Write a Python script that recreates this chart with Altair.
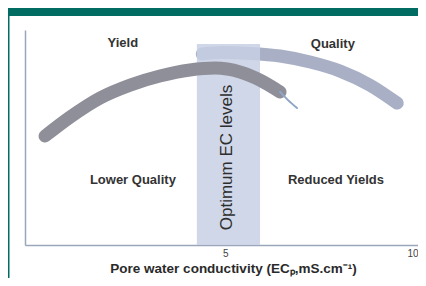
import altair as alt
import pandas as pd

# Curve data (x: pore water EC, y: relative response)
yield_x = [0.32, 0.97, 1.75, 2.53, 3.30, 4.08, 4.73, 5.38, 5.90, 6.42]
yield_y = [5.07, 5.95, 6.84, 7.44, 7.86, 8.14, 8.23, 8.05, 7.67, 7.12]
tail_x = [6.42, 6.62, 6.86]
tail_y = [7.12, 6.75, 6.37]
quality_x = [4.40, 4.91, 5.64, 6.42, 7.20, 7.98, 8.75, 9.46]
quality_y = [8.88, 8.95, 8.91, 8.79, 8.51, 8.09, 7.44, 6.60]

band_x = [4.26]
band_x2 = [5.90]
band_top = [9.35]

label_text = ["Yield", "Quality", "Lower Quality", "Reduced Yields"]
label_x = [2.34, 7.79, 2.60, 7.87]
label_y = [9.40, 9.35, 3.02, 3.02]

opt_text = ["Optimum EC levels"]
opt_x = [5.03]
opt_y = [4.07]

tick_values = [5, 10]
x_title = "Pore water conductivity (ECₚ,mS.cm⁻¹)"

xs = alt.Scale(domain=[-0.2, 10.0], nice=False, zero=False)
ys = alt.Scale(domain=[0, 10], nice=False, zero=False)

df_yield = pd.DataFrame({"x": yield_x, "y": yield_y})
df_tail = pd.DataFrame({"x": tail_x, "y": tail_y})
df_quality = pd.DataFrame({"x": quality_x, "y": quality_y})
df_band = pd.DataFrame({"x": band_x, "x2": band_x2, "y": [0], "y2": band_top})
df_labels = pd.DataFrame({"t": label_text, "x": label_x, "y": label_y})
df_opt = pd.DataFrame({"t": opt_text, "x": opt_x, "y": opt_y})
df_one = pd.DataFrame({"a": [0]})

xaxis = alt.Axis(values=tick_values, ticks=False, grid=False, domainColor="#9aa6ba",
                 domainWidth=1.5, labelColor="#444", labelFontSize=10, labelPadding=3,
                 labelFont="Liberation Sans", title=x_title, titleFont="Liberation Sans",
                 titleFontSize=13.5, titleFontWeight="bold", titleColor="#2a2a2a",
                 titlePadding=3, titleX=208, titleAlign="center", labelFlush=True)
yaxis = alt.Axis(labels=False, ticks=False, grid=False, title=None,
                 domainColor="#9aa6ba", domainWidth=1.5)

quality = alt.Chart(df_quality).mark_line(
    color="#a9b0c6", strokeWidth=13, strokeCap="round", interpolate="monotone"
).encode(x=alt.X("x:Q", scale=xs, axis=xaxis), y=alt.Y("y:Q", scale=ys, axis=yaxis))

band = alt.Chart(df_band).mark_rect(color="#c8d0e4", opacity=0.85).encode(
    x=alt.X("x:Q", scale=xs),
    x2="x2:Q",
    y=alt.Y("y:Q", scale=ys),
    y2="y2:Q",
)

yld = alt.Chart(df_yield).mark_line(
    color="#8f8f9a", strokeWidth=13, strokeCap="round", interpolate="monotone"
).encode(x=alt.X("x:Q", scale=xs), y=alt.Y("y:Q", scale=ys))

tail = alt.Chart(df_tail).mark_line(
    color="#8fa6c8", strokeWidth=2, strokeCap="round", interpolate="monotone"
).encode(x=alt.X("x:Q", scale=xs), y=alt.Y("y:Q", scale=ys))

labels = alt.Chart(df_labels).mark_text(
    font="Liberation Sans", fontSize=13, fontWeight="bold", color="#333"
).encode(x=alt.X("x:Q", scale=xs), y=alt.Y("y:Q", scale=ys), text="t:N")

opt = alt.Chart(df_opt).mark_text(
    font="Liberation Sans", fontSize=17, angle=270, color="#2e2e2e"
).encode(x=alt.X("x:Q", scale=xs), y=alt.Y("y:Q", scale=ys), text="t:N")

header = alt.Chart(df_one).mark_rect(color="#006c62").encode(
    x=alt.value(-17), x2=alt.value(393), y=alt.value(-22), y2=alt.value(-14)
)
border = alt.Chart(df_one).mark_rect(color="#006c62").encode(
    x=alt.value(-17), x2=alt.value(-15.5), y=alt.value(-14), y2=alt.value(248)
)

chart = alt.layer(quality, band, yld, tail, labels, opt, header, border).properties(
    width=393, height=215,
    autosize=alt.AutoSizeParams(type="none"),
    padding={"left": 17, "top": 22, "right": 0, "bottom": 33},
    background="white",
).configure_view(stroke=None)

chart.save("out.html", embed_options={"renderer": "svg", "actions": False})
